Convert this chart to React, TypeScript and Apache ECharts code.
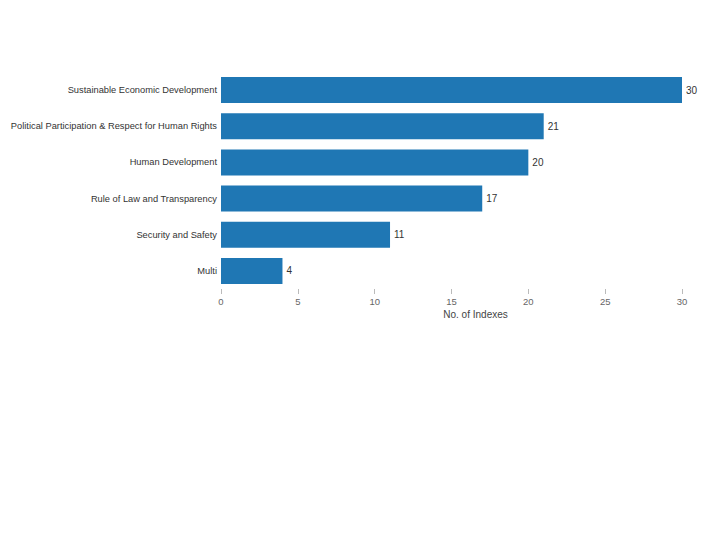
import React, { useEffect, useRef } from "react";
import * as echarts from "echarts";

const categories = [
  "Sustainable Economic Development",
  "Political Participation & Respect for Human Rights",
  "Human Development",
  "Rule of Law and Transparency",
  "Security and Safety",
  "Multi",
];
const values = [30, 21, 20, 17, 11, 4];
const axisName = "No. of Indexes";

export default function App() {
  const ref = useRef<HTMLDivElement>(null);
  useEffect(() => {
    if (!ref.current) return;
    const chart = echarts.init(ref.current, null, { renderer: "svg" });
    chart.setOption({
      animation: false,
      backgroundColor: "#ffffff",
      textStyle: { fontFamily: "Liberation Sans, Arial, sans-serif" },
      grid: { left: 221, right: 38, top: 72, bottom: 251, containLabel: false },
      xAxis: {
        type: "value",
        min: 0,
        max: 30,
        interval: 5,
        axisLine: { show: false },
        axisTick: { show: true, length: 5, lineStyle: { color: "#bbbbbb" } },
        splitLine: { show: false },
        axisLabel: { color: "#666666", fontSize: 9.5, margin: 7 },
        name: axisName,
        nameLocation: "middle",
        nameGap: 20,
        nameTextStyle: { color: "#444444", fontSize: 10, padding: [0, 0, 0, 48] },
      },
      yAxis: {
        type: "category",
        inverse: true,
        data: categories,
        axisLine: { show: false },
        axisTick: { show: false },
        axisLabel: { color: "#333333", fontSize: 9.3, margin: 4 },
      },
      series: [
        {
          type: "bar",
          data: values,
          barCategoryGap: "28%",
          itemStyle: { color: "#1f77b4" },
          label: {
            show: true,
            position: "right",
            distance: 4,
            color: "#333333",
            fontSize: 10,
          },
        },
      ],
    });
    return () => chart.dispose();
  }, []);
  return (
    <div
      ref={ref}
      style={{ position: "absolute", left: 0, top: 0, width: 720, height: 540 }}
    />
  );
}
